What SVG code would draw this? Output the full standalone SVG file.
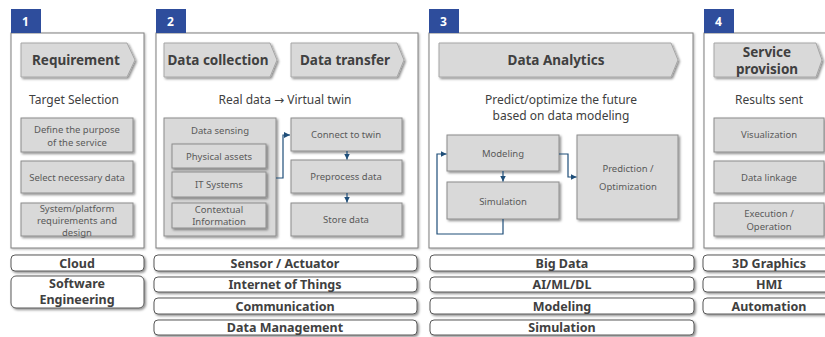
<svg xmlns="http://www.w3.org/2000/svg" width="825" height="337" viewBox="0 0 825 337">
  <defs>
    <filter id="sh" x="-10%" y="-10%" width="130%" height="140%">
      <feDropShadow dx="1.5" dy="1.5" stdDeviation="0.8" flood-color="#000" flood-opacity="0.45"/>
    </filter>
    <filter id="shp" x="-5%" y="-5%" width="110%" height="110%">
      <feDropShadow dx="1" dy="1" stdDeviation="0.8" flood-color="#000" flood-opacity="0.3"/>
    </filter>
    <marker id="ah" viewBox="0 0 6 6" refX="6" refY="3" markerWidth="5" markerHeight="5" orient="auto">
      <path d="M0,0 L6,3 L0,6 Z" fill="#1f4e79"/>
    </marker>
    <style>
      text { font-family: "Noto Sans", "Open Sans", sans-serif; }
      .panel { fill: #fff; stroke: #7f7f7f; stroke-width: 1; filter: url(#shp); }
      .tag { fill: #2e4d9c; }
      .tagt { fill: #fff; font-size: 12px; font-weight: bold; }
      .chev { fill: #d9d9d9; stroke: #a6a6a6; stroke-width: 1; filter: url(#sh); }
      .head { fill: #404040; font-size: 13.5px; font-weight: bold; text-anchor: middle; }
      .sub { fill: #404040; font-size: 12px; text-anchor: middle; }
      .arr { font-family: "DejaVu Sans", sans-serif; font-size: 12px; }
      .box { fill: #d9d9d9; stroke: #8c8c8c; stroke-width: 1; filter: url(#sh); }
      .bt { fill: #595959; font-size: 9.5px; text-anchor: middle; }
      .tech { fill: #fff; stroke: #595959; stroke-width: 1; filter: url(#sh); }
      .tt { fill: #404040; font-size: 12.5px; font-weight: bold; text-anchor: middle; }
      .conn { fill: none; stroke: #1f4e79; stroke-width: 1.2; }
    </style>
  </defs>

  <!-- Stage 1: Requirement -->
  <g id="stage1">
    <rect class="panel" x="11" y="33" width="133" height="215"/>
    <rect class="tag" x="11" y="9" width="30" height="24"/>
    <text class="tagt" x="22" y="26">1</text>
    <polygon class="chev" points="21,43 127,43 135,60 127,77 21,77"/>
    <text class="head" x="76" y="65">Requirement</text>
    <text class="sub" x="74" y="104">Target Selection</text>
  </g>
  <g id="s1-purpose">
    <rect class="box" x="21" y="118" width="112" height="34"/>
    <text class="bt" x="77" y="133">Define the purpose</text>
    <text class="bt" x="77" y="146">of the service</text>
  </g>
  <g id="s1-select">
    <rect class="box" x="21" y="161" width="112" height="32"/>
    <text class="bt" x="77" y="181">Select necessary data</text>
  </g>
  <g id="s1-system">
    <rect class="box" x="21" y="203" width="112" height="33"/>
    <text class="bt" x="77" y="212">System/platform</text>
    <text class="bt" x="77" y="224">requirements and</text>
    <text class="bt" x="77" y="236">design</text>
  </g>

  <!-- Stage 2: Data collection / transfer -->
  <g id="stage2">
    <rect class="panel" x="156" y="33" width="262" height="215"/>
    <rect class="tag" x="156" y="9" width="30" height="24"/>
    <text class="tagt" x="167" y="26">2</text>
    <polygon class="chev" points="164,43 270,43 277,60 270,77 164,77"/>
    <text class="head" x="218" y="65">Data collection</text>
    <polygon class="chev" points="291,43 397,43 404,60 397,77 291,77"/>
    <text class="head" x="345" y="65">Data transfer</text>
    <text class="sub" x="285" y="104">Real data <tspan class="arr">→</tspan> Virtual twin</text>
  </g>
  <g id="s2-sensing">
    <rect class="box" x="164" y="118" width="112" height="118"/>
    <text class="bt" x="220" y="134">Data sensing</text>
  </g>
  <g id="s2-physical">
    <rect class="box" x="172" y="144" width="94" height="24"/>
    <text class="bt" x="219" y="160">Physical assets</text>
  </g>
  <g id="s2-it">
    <rect class="box" x="172" y="172" width="94" height="25"/>
    <text class="bt" x="219" y="188">IT Systems</text>
  </g>
  <g id="s2-context">
    <rect class="box" x="172" y="203" width="94" height="25"/>
    <text class="bt" x="219" y="213">Contextual</text>
    <text class="bt" x="219" y="225">Information</text>
  </g>
  <g id="s2-connect">
    <rect class="box" x="291" y="118" width="111" height="33"/>
    <text class="bt" x="346" y="138">Connect to twin</text>
  </g>
  <g id="s2-preprocess">
    <rect class="box" x="291" y="160" width="111" height="33"/>
    <text class="bt" x="346" y="180">Preprocess data</text>
  </g>
  <g id="s2-store">
    <rect class="box" x="291" y="203" width="111" height="33"/>
    <text class="bt" x="346" y="223">Store data</text>
  </g>

  <!-- Stage 3: Data Analytics -->
  <g id="stage3">
    <rect class="panel" x="429" y="33" width="264" height="215"/>
    <rect class="tag" x="429" y="9" width="30" height="24"/>
    <text class="tagt" x="440" y="26">3</text>
    <polygon class="chev" points="439,43 671,43 678,60 671,77 439,77"/>
    <text class="head" x="556" y="65">Data Analytics</text>
    <text class="sub" x="561" y="104">Predict/optimize the future</text>
    <text class="sub" x="561" y="120">based on data modeling</text>
  </g>
  <g id="s3-modeling">
    <rect class="box" x="447" y="135" width="112" height="36"/>
    <text class="bt" x="503" y="157">Modeling</text>
  </g>
  <g id="s3-simulation">
    <rect class="box" x="447" y="182" width="112" height="37"/>
    <text class="bt" x="503" y="205">Simulation</text>
  </g>
  <g id="s3-prediction">
    <rect class="box" x="577" y="135" width="101" height="84"/>
    <text class="bt" x="628" y="172">Prediction /</text>
    <text class="bt" x="628" y="190">Optimization</text>
  </g>

  <!-- Stage 4: Service provision -->
  <g id="stage4">
    <rect class="panel" x="704" y="33" width="130" height="215"/>
    <rect class="tag" x="704" y="9" width="30" height="24"/>
    <text class="tagt" x="715" y="26">4</text>
    <polygon class="chev" points="714,43 816,43 822,60 816,77 714,77"/>
    <text class="head" x="767" y="57">Service</text>
    <text class="head" x="767" y="74">provision</text>
    <text class="sub" x="769" y="104">Results sent</text>
  </g>
  <g id="s4-visual">
    <rect class="box" x="714" y="118" width="110" height="34"/>
    <text class="bt" x="769" y="138">Visualization</text>
  </g>
  <g id="s4-linkage">
    <rect class="box" x="714" y="161" width="110" height="32"/>
    <text class="bt" x="769" y="181">Data linkage</text>
  </g>
  <g id="s4-exec">
    <rect class="box" x="714" y="203" width="110" height="33"/>
    <text class="bt" x="769" y="217">Execution /</text>
    <text class="bt" x="769" y="230">Operation</text>
  </g>

  <!-- Connectors -->
  <g id="connectors">
    <path class="conn" d="M276,178 H283 V135 H290" marker-end="url(#ah)"/>
    <path class="conn" d="M347,151 V159.5" marker-end="url(#ah)"/>
    <path class="conn" d="M347,193 V202.5" marker-end="url(#ah)"/>
    <path class="conn" d="M503,171 V181.5" marker-end="url(#ah)"/>
    <path class="conn" d="M503,219 V234 H437 V154 H446.5" marker-end="url(#ah)"/>
    <path class="conn" d="M559,154 H568 V177 H576.5" marker-end="url(#ah)"/>
  </g>

  <!-- Enabling technologies -->
  <g id="tech1">
    <rect class="tech" x="11" y="255" width="133" height="16" rx="4"/>
    <text class="tt" x="77" y="268">Cloud</text>
    <rect class="tech" x="11" y="276" width="133" height="32" rx="5"/>
    <text class="tt" x="77" y="288">Software</text>
    <text class="tt" x="77" y="304">Engineering</text>
  </g>
  <g id="tech2">
    <rect class="tech" x="154" y="255" width="263" height="16" rx="4"/>
    <text class="tt" x="285" y="268">Sensor / Actuator</text>
    <rect class="tech" x="154" y="277" width="263" height="15" rx="4"/>
    <text class="tt" x="285" y="289">Internet of Things</text>
    <rect class="tech" x="154" y="298" width="263" height="16" rx="4"/>
    <text class="tt" x="285" y="311">Communication</text>
    <rect class="tech" x="154" y="320" width="263" height="15" rx="4"/>
    <text class="tt" x="285" y="332">Data Management</text>
  </g>
  <g id="tech3">
    <rect class="tech" x="430" y="255" width="264" height="16" rx="4"/>
    <text class="tt" x="562" y="268">Big Data</text>
    <rect class="tech" x="430" y="277" width="264" height="15" rx="4"/>
    <text class="tt" x="562" y="289">AI/ML/DL</text>
    <rect class="tech" x="430" y="298" width="264" height="16" rx="4"/>
    <text class="tt" x="562" y="311">Modeling</text>
    <rect class="tech" x="430" y="320" width="264" height="15" rx="4"/>
    <text class="tt" x="562" y="332">Simulation</text>
  </g>
  <g id="tech4">
    <rect class="tech" x="703" y="255" width="130" height="16" rx="4"/>
    <text class="tt" x="769" y="268">3D Graphics</text>
    <rect class="tech" x="703" y="277" width="130" height="15" rx="4"/>
    <text class="tt" x="769" y="289">HMI</text>
    <rect class="tech" x="703" y="298" width="130" height="16" rx="4"/>
    <text class="tt" x="769" y="311">Automation</text>
  </g>
</svg>
